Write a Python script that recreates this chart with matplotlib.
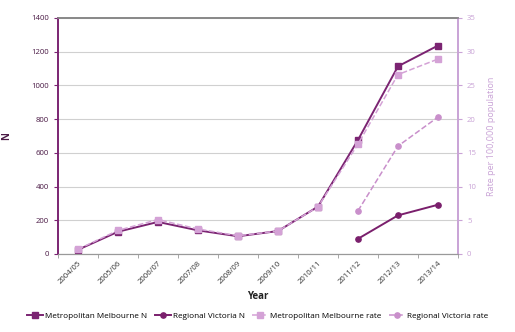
import matplotlib
matplotlib.use("Agg")
import matplotlib.pyplot as plt
import numpy as np

years = ["2004/05", "2005/06", "2006/07", "2007/08", "2008/09",
         "2009/10", "2010/11", "2011/12", "2012/13", "2013/14"]
metro_n = [25, 132, 190, 140, 105, 136, 281, 676, 1113, 1236]
regional_n = [None] * 7 + [90, 229, 292]
metro_rate = [0.7, 3.5, 5.1, 3.7, 2.7, 3.4, 7.0, 16.3, 26.6, 28.9]
regional_rate = [None] * 7 + [6.4, 16.0, 20.3]

dark = "#7b2472"
dark2 = "#7a1f6c"
light = "#d4a2d6"
light2 = "#c98fcb"
axis_light = "#c9a3d6"

plt.rcParams["font.family"] = ["Open Sans", "DejaVu Sans"]

x = np.arange(len(years))


def arr(v):
    return np.array([np.nan if a is None else a for a in v], dtype=float)


fig = plt.figure(figsize=(5.15, 3.32), dpi=100)
ax = fig.add_axes([0.1126, 0.235, 0.7767, 0.711])
ax2 = ax.twinx()

ax.set_ylim(0, 1400)
ax.set_yticks(range(0, 1401, 200))
ax.set_xlim(-0.5, len(years) - 0.5)
ax.grid(axis="y", color="#d0d0d0", linewidth=0.8)
ax.set_axisbelow(True)

l1, = ax.plot(x, arr(metro_n), color=dark, lw=1.4, marker="s", ms=3.8,
              label="Metropolitan Melbourne N", zorder=4)
l2, = ax.plot(x, arr(regional_n), color=dark2, lw=1.4, marker="o", ms=3.8,
              label="Regional Victoria N", zorder=4)

ax2.set_ylim(0, 35)
ax2.set_yticks(range(0, 36, 5))
l3, = ax2.plot(x, arr(metro_rate), color=light, lw=1.1, ls="--", marker="s",
               ms=3.8, label="Metropolitan Melbourne rate", zorder=3)
l4, = ax2.plot(x, arr(regional_rate), color=light2, lw=1.1, ls="--", marker="o",
               ms=3.8, label="Regional Victoria rate", zorder=3)

# category ticks sit between the labels, excel style
ax.set_xticks(x)
ax.set_xticklabels(years, rotation=45, ha="right", rotation_mode="anchor",
                   fontsize=5.6, color="#333333")
ax.tick_params(axis="x", length=0, pad=4)
ax.set_xticks(np.arange(-0.5, len(years), 1), minor=True)
ax.tick_params(axis="x", which="minor", length=3, color="#999999")

ax.tick_params(axis="y", labelsize=5.6, colors=dark, length=3)
ax2.tick_params(axis="y", labelsize=5.6, colors=axis_light, length=3)
for t in ax.get_yticklabels():
    t.set_color("#4a1a45")

for a in (ax, ax2):
    a.spines["top"].set_color("#888888")
    a.spines["top"].set_linewidth(1.2)
    a.spines["bottom"].set_color("#999999")
    a.spines["left"].set_color(dark)
    a.spines["left"].set_linewidth(1.2)
    a.spines["right"].set_color(axis_light)
    a.spines["right"].set_linewidth(1.2)

ax.set_ylabel("N", fontsize=7, fontweight="bold", color="#4a1a45", labelpad=14)
ax2.set_ylabel("Rate per 100,000 population", fontsize=6.5, color=axis_light,
               labelpad=8)
ax.set_xlabel("Year", fontsize=7, fontweight="bold", color="#222222", labelpad=4)

fig.legend(handles=[l1, l2, l3, l4], loc="lower center",
           bbox_to_anchor=(0.5, 0.015), ncol=4, frameon=False, fontsize=5.9,
           handlelength=2.0, columnspacing=0.9, handletextpad=0.2)

fig.savefig("out.png", dpi=100)
